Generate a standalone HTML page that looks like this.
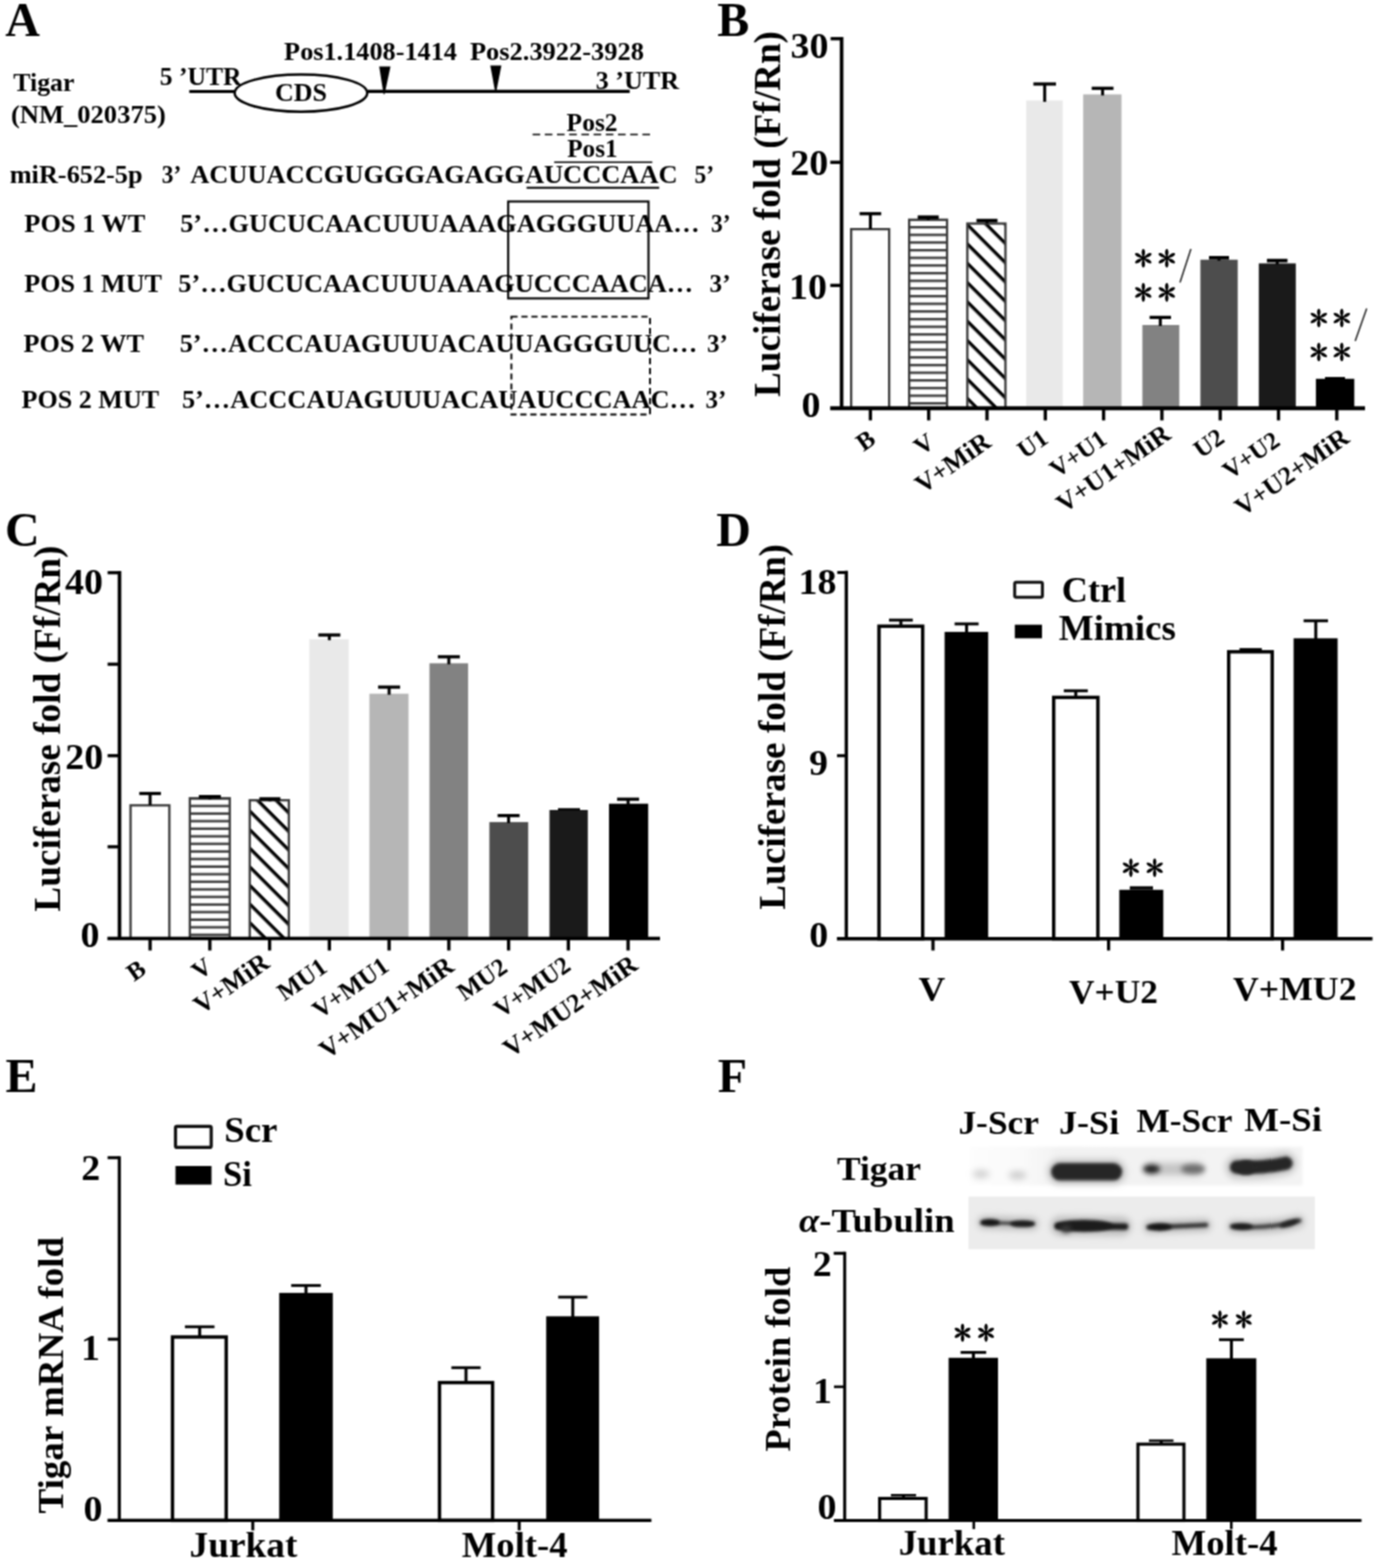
<!DOCTYPE html>
<html><head><meta charset="utf-8"><title>Figure</title>
<style>
html,body{margin:0;padding:0;background:#fff;}
body{width:1375px;height:1559px;overflow:hidden;}
svg{display:block;font-family:"Liberation Serif",serif;font-weight:bold;}
</style></head><body>
<svg width="1375" height="1559" viewBox="0 0 1375 1559">

<defs>
<pattern id="hsB" patternUnits="userSpaceOnUse" x="0" y="0" width="8" height="7.66">
<rect x="0" y="0" width="8" height="7.66" fill="#fff"/>
<rect x="0" y="3.91" width="8" height="2.3" fill="#2e2e2e"/>
</pattern>
<pattern id="hsC" patternUnits="userSpaceOnUse" x="0" y="0" width="8" height="7.58">
<rect x="0" y="0" width="8" height="7.58" fill="#fff"/>
<rect x="0" y="1.37" width="8" height="2.3" fill="#2e2e2e"/>
</pattern>
<pattern id="dsB" patternUnits="userSpaceOnUse" width="13.65" height="13.65" patternTransform="rotate(45) translate(0 5.55)">
<rect x="0" y="0" width="13.65" height="13.65" fill="#fff"/>
<rect x="0" y="0" width="13.65" height="3.3" fill="#000"/>
</pattern>
<pattern id="dsC" patternUnits="userSpaceOnUse" width="13.15" height="13.15" patternTransform="rotate(45) translate(0 0.75)">
<rect x="0" y="0" width="13.15" height="13.15" fill="#fff"/>
<rect x="0" y="0" width="13.15" height="3.3" fill="#000"/>
</pattern>
<linearGradient id="tg" gradientUnits="userSpaceOnUse" x1="969" y1="0" x2="1302" y2="0"><stop offset="0" stop-color="#fdfdfd"/><stop offset="0.17" stop-color="#f9f9f9"/><stop offset="0.27" stop-color="#f2f2f2"/><stop offset="1" stop-color="#f3f3f3"/></linearGradient>
<filter id="b1" filterUnits="userSpaceOnUse" x="940" y="1130" width="400" height="140"><feGaussianBlur stdDeviation="1.6"/></filter>
<filter id="b2" filterUnits="userSpaceOnUse" x="940" y="1130" width="400" height="140"><feGaussianBlur stdDeviation="2.4"/></filter>
<filter id="b3" filterUnits="userSpaceOnUse" x="940" y="1130" width="400" height="140"><feGaussianBlur stdDeviation="3.2"/></filter>
<filter id="soft" filterUnits="userSpaceOnUse" x="0" y="0" width="1375" height="1559" color-interpolation-filters="sRGB"><feConvolveMatrix order="3" kernelMatrix="1 2 1 2 4 2 1 2 1" divisor="16" edgeMode="duplicate" preserveAlpha="true"/></filter>
</defs>

<g id="fig" filter="url(#soft)">
<rect x="0" y="0" width="1375" height="1559" fill="#fff"/>
<text x="5.3" y="35.6" font-size="48" >A</text>
<text x="13.3" y="91.2" font-size="24.3" textLength="61.2" lengthAdjust="spacingAndGlyphs" >Tigar</text>
<text x="11" y="123" font-size="24.3" textLength="154.8" lengthAdjust="spacingAndGlyphs" >(NM_020375)</text>
<text x="159.8" y="85.1" font-size="24.3" textLength="81.7" lengthAdjust="spacingAndGlyphs" >5 ’UTR</text>
<line x1="189.3" y1="91.5" x2="236" y2="91.5" stroke="#000" stroke-width="3.1" />
<ellipse cx="300.95" cy="93.05" rx="66.3" ry="18.6" fill="#fff" stroke="#000" stroke-width="2.5"/>
<text x="275" y="100.9" font-size="24.3" textLength="52" lengthAdjust="spacingAndGlyphs" >CDS</text>
<text x="284.1" y="60.4" font-size="24.3" textLength="172.9" lengthAdjust="spacingAndGlyphs" >Pos1.1408-1414</text>
<text x="469.9" y="60" font-size="24.3" textLength="174.1" lengthAdjust="spacingAndGlyphs" >Pos2.3922-3928</text>
<line x1="367.6" y1="91.3" x2="629.7" y2="91.3" stroke="#000" stroke-width="3.3" />
<path d="M379.2 66.6 L390.5 66.6 L384.6 94.2 L383.6 94.2 Z" fill="#000"/>
<path d="M490.3 65.5 L501.4 65.5 L496.2 92 L495.2 92 Z" fill="#000"/>
<text x="595.7" y="89.1" font-size="24.3" textLength="83.3" lengthAdjust="spacingAndGlyphs" >3 ’UTR</text>
<text x="566.6" y="130.6" font-size="24.3" textLength="51" lengthAdjust="spacingAndGlyphs" >Pos2</text>
<line x1="532.6" y1="134.5" x2="652.3" y2="134.5" stroke="#000" stroke-width="1.7" stroke-dasharray="7.6 4.6"/>
<text x="567.2" y="156.8" font-size="24.3" textLength="50.4" lengthAdjust="spacingAndGlyphs" >Pos1</text>
<line x1="554.2" y1="162.3" x2="652.3" y2="162.3" stroke="#000" stroke-width="1.6" />
<line x1="526.6" y1="187.8" x2="659.2" y2="187.8" stroke="#000" stroke-width="2" />
<text x="9.7" y="182.6" font-size="24.3" textLength="132.9" lengthAdjust="spacingAndGlyphs" >miR-652-5p</text>
<text x="161.7" y="182.9" font-size="24.3" textLength="19.5" lengthAdjust="spacingAndGlyphs" >3’</text>
<text x="190.2" y="182.9" font-size="24.3" textLength="487.4" lengthAdjust="spacingAndGlyphs" >ACUUACCGUGGGAGAGGAUCCCAAC</text>
<text x="694.4" y="182.9" font-size="24.3" textLength="19.6" lengthAdjust="spacingAndGlyphs" >5’</text>
<text x="24.3" y="232.4" font-size="24.3" textLength="121.1" lengthAdjust="spacingAndGlyphs" >POS 1 WT</text>
<text x="180.2" y="232.4" font-size="24.3" textLength="519.4" lengthAdjust="spacingAndGlyphs" >5’…GUCUCAACUUUAAAGAGGGUUAA…</text>
<text x="711" y="232.4" font-size="24.3" textLength="19.6" lengthAdjust="spacingAndGlyphs" >3’</text>
<text x="24.3" y="292.3" font-size="24.3" textLength="137.7" lengthAdjust="spacingAndGlyphs" >POS 1 MUT</text>
<text x="178.3" y="292.3" font-size="24.3" textLength="514.9" lengthAdjust="spacingAndGlyphs" >5’…GUCUCAACUUUAAAGUCCCAACA…</text>
<text x="709.6" y="292.3" font-size="24.3" textLength="21" lengthAdjust="spacingAndGlyphs" >3’</text>
<text x="23.5" y="351.8" font-size="24.3" textLength="120.5" lengthAdjust="spacingAndGlyphs" >POS 2 WT</text>
<text x="179.7" y="351.8" font-size="24.3" textLength="517.7" lengthAdjust="spacingAndGlyphs" >5’…ACCCAUAGUUUACAUUAGGGUUC…</text>
<text x="706.9" y="351.8" font-size="24.3" textLength="20.9" lengthAdjust="spacingAndGlyphs" >3’</text>
<text x="21.6" y="408.4" font-size="24.3" textLength="137.6" lengthAdjust="spacingAndGlyphs" >POS 2 MUT</text>
<text x="181.9" y="408.4" font-size="24.3" textLength="514.1" lengthAdjust="spacingAndGlyphs" >5’…ACCCAUAGUUUACAUAUCCCAAC…</text>
<text x="705.5" y="408.4" font-size="24.3" textLength="20.9" lengthAdjust="spacingAndGlyphs" >3’</text>
<rect x="508.2" y="201.5" width="140.3" height="96.9" fill="none" stroke="#000" stroke-width="2.1" />
<rect x="511.4" y="316.6" width="138.6" height="97.9" fill="none" stroke="#000" stroke-width="1.9" stroke-dasharray="6.2 3.8"/>
<text x="717.2" y="35.6" font-size="48" >B</text>
<line x1="841.6" y1="37" x2="841.6" y2="408.2" stroke="#000" stroke-width="3.6" />
<line x1="830.6" y1="38.7" x2="841.6" y2="38.7" stroke="#000" stroke-width="3.3" />
<line x1="830.3" y1="162.3" x2="841.6" y2="162.3" stroke="#000" stroke-width="3.3" />
<line x1="830.3" y1="285.4" x2="841.6" y2="285.4" stroke="#000" stroke-width="3.3" />
<text x="828.5" y="57.5" font-size="35.5" text-anchor="end" textLength="38" lengthAdjust="spacingAndGlyphs" >30</text>
<text x="828.2" y="174.9" font-size="35.5" text-anchor="end" textLength="38" lengthAdjust="spacingAndGlyphs" >20</text>
<text x="827" y="298.7" font-size="35.5" text-anchor="end" textLength="38" lengthAdjust="spacingAndGlyphs" >10</text>
<text x="820.6" y="416.5" font-size="35.5" text-anchor="end" textLength="19" lengthAdjust="spacingAndGlyphs" >0</text>
<text x="780.1" y="397" font-size="37.3" textLength="366" lengthAdjust="spacingAndGlyphs" transform="rotate(-90 780.1 397)" >Luciferase fold (Ff/Rn)</text>
<line x1="870.4" y1="408.2" x2="870.4" y2="420.4" stroke="#000" stroke-width="3.3" />
<line x1="928.7" y1="408.2" x2="928.7" y2="420.4" stroke="#000" stroke-width="3.3" />
<line x1="987" y1="408.2" x2="987" y2="420.4" stroke="#000" stroke-width="3.3" />
<line x1="1045.3" y1="408.2" x2="1045.3" y2="420.4" stroke="#000" stroke-width="3.3" />
<line x1="1103.6" y1="408.2" x2="1103.6" y2="420.4" stroke="#000" stroke-width="3.3" />
<line x1="1161.9" y1="408.2" x2="1161.9" y2="420.4" stroke="#000" stroke-width="3.3" />
<line x1="1220.2" y1="408.2" x2="1220.2" y2="420.4" stroke="#000" stroke-width="3.3" />
<line x1="1278.5" y1="408.2" x2="1278.5" y2="420.4" stroke="#000" stroke-width="3.3" />
<line x1="1336.8" y1="408.2" x2="1336.8" y2="420.4" stroke="#000" stroke-width="3.3" />
<rect x="851.15" y="229.15" width="38" height="179.05" fill="#fff" stroke="#3a3a3a" stroke-width="2.3" />
<line x1="870.4" y1="213.7" x2="870.4" y2="229" stroke="#000" stroke-width="3" />
<line x1="859.6" y1="213.7" x2="881.2" y2="213.7" stroke="#000" stroke-width="3.2" />
<rect x="909.15" y="219.75" width="37.9" height="188.45" fill="url(#hsB)" stroke="#3a3a3a" stroke-width="2.3" />
<line x1="928.2" y1="217.2" x2="928.2" y2="220" stroke="#000" stroke-width="3" />
<line x1="917.7" y1="217.2" x2="938.7" y2="217.2" stroke="#000" stroke-width="3.6" />
<rect x="967.35" y="223.55" width="38.1" height="184.65" fill="url(#dsB)" stroke="#3a3a3a" stroke-width="2.3" />
<line x1="987" y1="220.6" x2="987" y2="223.5" stroke="#000" stroke-width="3" />
<line x1="976.5" y1="220.6" x2="997.5" y2="220.6" stroke="#000" stroke-width="3.6" />
<rect x="1026.2" y="100.5" width="36.5" height="307.7" fill="#e9e9e9" />
<line x1="1044.7" y1="84" x2="1044.7" y2="101.8" stroke="#000" stroke-width="3" />
<line x1="1033.4" y1="84" x2="1056" y2="84" stroke="#000" stroke-width="3.2" />
<rect x="1083.2" y="94.4" width="38.3" height="313.8" fill="#b6b6b6" />
<line x1="1102.6" y1="88.3" x2="1102.6" y2="95.4" stroke="#000" stroke-width="3" />
<line x1="1091.7" y1="88.3" x2="1113.5" y2="88.3" stroke="#000" stroke-width="3.2" />
<rect x="1142.4" y="325" width="36.9" height="83.2" fill="#828282" />
<line x1="1160.3" y1="317.4" x2="1160.3" y2="326" stroke="#000" stroke-width="3" />
<line x1="1149.6" y1="317.4" x2="1171" y2="317.4" stroke="#000" stroke-width="3.2" />
<rect x="1200.4" y="259.7" width="37.3" height="148.5" fill="#4d4d4d" />
<line x1="1219" y1="257.8" x2="1219" y2="260.7" stroke="#000" stroke-width="3" />
<line x1="1209" y1="257.8" x2="1229" y2="257.8" stroke="#000" stroke-width="3.6" />
<rect x="1258.8" y="263.4" width="37" height="144.8" fill="#1a1a1a" />
<line x1="1277.2" y1="260.6" x2="1277.2" y2="264.4" stroke="#000" stroke-width="3" />
<line x1="1266.9" y1="260.6" x2="1287.5" y2="260.6" stroke="#000" stroke-width="3.6" />
<rect x="1315.9" y="378.8" width="38.4" height="29.4" fill="#000" />
<line x1="1325" y1="378.2" x2="1345" y2="378.2" stroke="#000" stroke-width="2.4" />
<line x1="1143.3" y1="258.2" x2="1143.3" y2="249.9" stroke="#000" stroke-width="2" stroke-linecap="round"/>
<ellipse cx="1143.3" cy="252.52" rx="3.1" ry="1.67" fill="#000" transform="rotate(-90 1143.3 252.52)"/>
<line x1="1143.3" y1="258.2" x2="1150.49" y2="254.05" stroke="#000" stroke-width="2" stroke-linecap="round"/>
<ellipse cx="1148.21" cy="255.36" rx="3.1" ry="1.67" fill="#000" transform="rotate(-30 1148.21 255.36)"/>
<line x1="1143.3" y1="258.2" x2="1136.11" y2="254.05" stroke="#000" stroke-width="2" stroke-linecap="round"/>
<ellipse cx="1138.38" cy="255.36" rx="3.1" ry="1.67" fill="#000" transform="rotate(-150 1138.38 255.36)"/>
<line x1="1143.3" y1="258.2" x2="1143.3" y2="266.5" stroke="#000" stroke-width="2" stroke-linecap="round"/>
<ellipse cx="1143.3" cy="263.88" rx="3.1" ry="1.67" fill="#000" transform="rotate(-270 1143.3 263.88)"/>
<line x1="1143.3" y1="258.2" x2="1136.11" y2="262.35" stroke="#000" stroke-width="2" stroke-linecap="round"/>
<ellipse cx="1138.38" cy="261.04" rx="3.1" ry="1.67" fill="#000" transform="rotate(-210 1138.38 261.04)"/>
<line x1="1143.3" y1="258.2" x2="1150.49" y2="262.35" stroke="#000" stroke-width="2" stroke-linecap="round"/>
<ellipse cx="1148.21" cy="261.04" rx="3.1" ry="1.67" fill="#000" transform="rotate(-330 1148.21 261.04)"/>
<line x1="1166.8" y1="258.2" x2="1166.8" y2="249.9" stroke="#000" stroke-width="2" stroke-linecap="round"/>
<ellipse cx="1166.8" cy="252.52" rx="3.1" ry="1.67" fill="#000" transform="rotate(-90 1166.8 252.52)"/>
<line x1="1166.8" y1="258.2" x2="1173.99" y2="254.05" stroke="#000" stroke-width="2" stroke-linecap="round"/>
<ellipse cx="1171.72" cy="255.36" rx="3.1" ry="1.67" fill="#000" transform="rotate(-30 1171.72 255.36)"/>
<line x1="1166.8" y1="258.2" x2="1159.61" y2="254.05" stroke="#000" stroke-width="2" stroke-linecap="round"/>
<ellipse cx="1161.89" cy="255.36" rx="3.1" ry="1.67" fill="#000" transform="rotate(-150 1161.89 255.36)"/>
<line x1="1166.8" y1="258.2" x2="1166.8" y2="266.5" stroke="#000" stroke-width="2" stroke-linecap="round"/>
<ellipse cx="1166.8" cy="263.88" rx="3.1" ry="1.67" fill="#000" transform="rotate(-270 1166.8 263.88)"/>
<line x1="1166.8" y1="258.2" x2="1159.61" y2="262.35" stroke="#000" stroke-width="2" stroke-linecap="round"/>
<ellipse cx="1161.89" cy="261.04" rx="3.1" ry="1.67" fill="#000" transform="rotate(-210 1161.89 261.04)"/>
<line x1="1166.8" y1="258.2" x2="1173.99" y2="262.35" stroke="#000" stroke-width="2" stroke-linecap="round"/>
<ellipse cx="1171.72" cy="261.04" rx="3.1" ry="1.67" fill="#000" transform="rotate(-330 1171.72 261.04)"/>
<line x1="1143.3" y1="292.4" x2="1143.3" y2="284.1" stroke="#000" stroke-width="2" stroke-linecap="round"/>
<ellipse cx="1143.3" cy="286.72" rx="3.1" ry="1.67" fill="#000" transform="rotate(-90 1143.3 286.72)"/>
<line x1="1143.3" y1="292.4" x2="1150.49" y2="288.25" stroke="#000" stroke-width="2" stroke-linecap="round"/>
<ellipse cx="1148.21" cy="289.56" rx="3.1" ry="1.67" fill="#000" transform="rotate(-30 1148.21 289.56)"/>
<line x1="1143.3" y1="292.4" x2="1136.11" y2="288.25" stroke="#000" stroke-width="2" stroke-linecap="round"/>
<ellipse cx="1138.38" cy="289.56" rx="3.1" ry="1.67" fill="#000" transform="rotate(-150 1138.38 289.56)"/>
<line x1="1143.3" y1="292.4" x2="1143.3" y2="300.7" stroke="#000" stroke-width="2" stroke-linecap="round"/>
<ellipse cx="1143.3" cy="298.08" rx="3.1" ry="1.67" fill="#000" transform="rotate(-270 1143.3 298.08)"/>
<line x1="1143.3" y1="292.4" x2="1136.11" y2="296.55" stroke="#000" stroke-width="2" stroke-linecap="round"/>
<ellipse cx="1138.38" cy="295.24" rx="3.1" ry="1.67" fill="#000" transform="rotate(-210 1138.38 295.24)"/>
<line x1="1143.3" y1="292.4" x2="1150.49" y2="296.55" stroke="#000" stroke-width="2" stroke-linecap="round"/>
<ellipse cx="1148.21" cy="295.24" rx="3.1" ry="1.67" fill="#000" transform="rotate(-330 1148.21 295.24)"/>
<line x1="1166.8" y1="292.4" x2="1166.8" y2="284.1" stroke="#000" stroke-width="2" stroke-linecap="round"/>
<ellipse cx="1166.8" cy="286.72" rx="3.1" ry="1.67" fill="#000" transform="rotate(-90 1166.8 286.72)"/>
<line x1="1166.8" y1="292.4" x2="1173.99" y2="288.25" stroke="#000" stroke-width="2" stroke-linecap="round"/>
<ellipse cx="1171.72" cy="289.56" rx="3.1" ry="1.67" fill="#000" transform="rotate(-30 1171.72 289.56)"/>
<line x1="1166.8" y1="292.4" x2="1159.61" y2="288.25" stroke="#000" stroke-width="2" stroke-linecap="round"/>
<ellipse cx="1161.89" cy="289.56" rx="3.1" ry="1.67" fill="#000" transform="rotate(-150 1161.89 289.56)"/>
<line x1="1166.8" y1="292.4" x2="1166.8" y2="300.7" stroke="#000" stroke-width="2" stroke-linecap="round"/>
<ellipse cx="1166.8" cy="298.08" rx="3.1" ry="1.67" fill="#000" transform="rotate(-270 1166.8 298.08)"/>
<line x1="1166.8" y1="292.4" x2="1159.61" y2="296.55" stroke="#000" stroke-width="2" stroke-linecap="round"/>
<ellipse cx="1161.89" cy="295.24" rx="3.1" ry="1.67" fill="#000" transform="rotate(-210 1161.89 295.24)"/>
<line x1="1166.8" y1="292.4" x2="1173.99" y2="296.55" stroke="#000" stroke-width="2" stroke-linecap="round"/>
<ellipse cx="1171.72" cy="295.24" rx="3.1" ry="1.67" fill="#000" transform="rotate(-330 1171.72 295.24)"/>
<line x1="1190.9" y1="249" x2="1180" y2="282.4" stroke="#222" stroke-width="1.5" />
<line x1="1318.8" y1="318" x2="1318.8" y2="309.7" stroke="#000" stroke-width="2" stroke-linecap="round"/>
<ellipse cx="1318.8" cy="312.32" rx="3.1" ry="1.67" fill="#000" transform="rotate(-90 1318.8 312.32)"/>
<line x1="1318.8" y1="318" x2="1325.99" y2="313.85" stroke="#000" stroke-width="2" stroke-linecap="round"/>
<ellipse cx="1323.71" cy="315.16" rx="3.1" ry="1.67" fill="#000" transform="rotate(-30 1323.71 315.16)"/>
<line x1="1318.8" y1="318" x2="1311.61" y2="313.85" stroke="#000" stroke-width="2" stroke-linecap="round"/>
<ellipse cx="1313.88" cy="315.16" rx="3.1" ry="1.67" fill="#000" transform="rotate(-150 1313.88 315.16)"/>
<line x1="1318.8" y1="318" x2="1318.8" y2="326.3" stroke="#000" stroke-width="2" stroke-linecap="round"/>
<ellipse cx="1318.8" cy="323.68" rx="3.1" ry="1.67" fill="#000" transform="rotate(-270 1318.8 323.68)"/>
<line x1="1318.8" y1="318" x2="1311.61" y2="322.15" stroke="#000" stroke-width="2" stroke-linecap="round"/>
<ellipse cx="1313.88" cy="320.84" rx="3.1" ry="1.67" fill="#000" transform="rotate(-210 1313.88 320.84)"/>
<line x1="1318.8" y1="318" x2="1325.99" y2="322.15" stroke="#000" stroke-width="2" stroke-linecap="round"/>
<ellipse cx="1323.71" cy="320.84" rx="3.1" ry="1.67" fill="#000" transform="rotate(-330 1323.71 320.84)"/>
<line x1="1341.8" y1="318" x2="1341.8" y2="309.7" stroke="#000" stroke-width="2" stroke-linecap="round"/>
<ellipse cx="1341.8" cy="312.32" rx="3.1" ry="1.67" fill="#000" transform="rotate(-90 1341.8 312.32)"/>
<line x1="1341.8" y1="318" x2="1348.99" y2="313.85" stroke="#000" stroke-width="2" stroke-linecap="round"/>
<ellipse cx="1346.72" cy="315.16" rx="3.1" ry="1.67" fill="#000" transform="rotate(-30 1346.72 315.16)"/>
<line x1="1341.8" y1="318" x2="1334.61" y2="313.85" stroke="#000" stroke-width="2" stroke-linecap="round"/>
<ellipse cx="1336.89" cy="315.16" rx="3.1" ry="1.67" fill="#000" transform="rotate(-150 1336.89 315.16)"/>
<line x1="1341.8" y1="318" x2="1341.8" y2="326.3" stroke="#000" stroke-width="2" stroke-linecap="round"/>
<ellipse cx="1341.8" cy="323.68" rx="3.1" ry="1.67" fill="#000" transform="rotate(-270 1341.8 323.68)"/>
<line x1="1341.8" y1="318" x2="1334.61" y2="322.15" stroke="#000" stroke-width="2" stroke-linecap="round"/>
<ellipse cx="1336.89" cy="320.84" rx="3.1" ry="1.67" fill="#000" transform="rotate(-210 1336.89 320.84)"/>
<line x1="1341.8" y1="318" x2="1348.99" y2="322.15" stroke="#000" stroke-width="2" stroke-linecap="round"/>
<ellipse cx="1346.72" cy="320.84" rx="3.1" ry="1.67" fill="#000" transform="rotate(-330 1346.72 320.84)"/>
<line x1="1318.8" y1="352" x2="1318.8" y2="343.7" stroke="#000" stroke-width="2" stroke-linecap="round"/>
<ellipse cx="1318.8" cy="346.32" rx="3.1" ry="1.67" fill="#000" transform="rotate(-90 1318.8 346.32)"/>
<line x1="1318.8" y1="352" x2="1325.99" y2="347.85" stroke="#000" stroke-width="2" stroke-linecap="round"/>
<ellipse cx="1323.71" cy="349.16" rx="3.1" ry="1.67" fill="#000" transform="rotate(-30 1323.71 349.16)"/>
<line x1="1318.8" y1="352" x2="1311.61" y2="347.85" stroke="#000" stroke-width="2" stroke-linecap="round"/>
<ellipse cx="1313.88" cy="349.16" rx="3.1" ry="1.67" fill="#000" transform="rotate(-150 1313.88 349.16)"/>
<line x1="1318.8" y1="352" x2="1318.8" y2="360.3" stroke="#000" stroke-width="2" stroke-linecap="round"/>
<ellipse cx="1318.8" cy="357.68" rx="3.1" ry="1.67" fill="#000" transform="rotate(-270 1318.8 357.68)"/>
<line x1="1318.8" y1="352" x2="1311.61" y2="356.15" stroke="#000" stroke-width="2" stroke-linecap="round"/>
<ellipse cx="1313.88" cy="354.84" rx="3.1" ry="1.67" fill="#000" transform="rotate(-210 1313.88 354.84)"/>
<line x1="1318.8" y1="352" x2="1325.99" y2="356.15" stroke="#000" stroke-width="2" stroke-linecap="round"/>
<ellipse cx="1323.71" cy="354.84" rx="3.1" ry="1.67" fill="#000" transform="rotate(-330 1323.71 354.84)"/>
<line x1="1341.8" y1="352" x2="1341.8" y2="343.7" stroke="#000" stroke-width="2" stroke-linecap="round"/>
<ellipse cx="1341.8" cy="346.32" rx="3.1" ry="1.67" fill="#000" transform="rotate(-90 1341.8 346.32)"/>
<line x1="1341.8" y1="352" x2="1348.99" y2="347.85" stroke="#000" stroke-width="2" stroke-linecap="round"/>
<ellipse cx="1346.72" cy="349.16" rx="3.1" ry="1.67" fill="#000" transform="rotate(-30 1346.72 349.16)"/>
<line x1="1341.8" y1="352" x2="1334.61" y2="347.85" stroke="#000" stroke-width="2" stroke-linecap="round"/>
<ellipse cx="1336.89" cy="349.16" rx="3.1" ry="1.67" fill="#000" transform="rotate(-150 1336.89 349.16)"/>
<line x1="1341.8" y1="352" x2="1341.8" y2="360.3" stroke="#000" stroke-width="2" stroke-linecap="round"/>
<ellipse cx="1341.8" cy="357.68" rx="3.1" ry="1.67" fill="#000" transform="rotate(-270 1341.8 357.68)"/>
<line x1="1341.8" y1="352" x2="1334.61" y2="356.15" stroke="#000" stroke-width="2" stroke-linecap="round"/>
<ellipse cx="1336.89" cy="354.84" rx="3.1" ry="1.67" fill="#000" transform="rotate(-210 1336.89 354.84)"/>
<line x1="1341.8" y1="352" x2="1348.99" y2="356.15" stroke="#000" stroke-width="2" stroke-linecap="round"/>
<ellipse cx="1346.72" cy="354.84" rx="3.1" ry="1.67" fill="#000" transform="rotate(-330 1346.72 354.84)"/>
<line x1="1366.7" y1="308.4" x2="1355.2" y2="341" stroke="#222" stroke-width="1.5" />
<text x="877.2" y="442.5" font-size="25" text-anchor="end" transform="rotate(-35 877.2 442.5)" >B</text>
<text x="936" y="445.7" font-size="25" text-anchor="end" transform="rotate(-35 936 445.7)" >V</text>
<text x="992.5" y="445.4" font-size="26.3" text-anchor="end" transform="rotate(-35 992.5 445.4)" >V+MiR</text>
<text x="1049.7" y="441.8" font-size="25" text-anchor="end" transform="rotate(-35 1049.7 441.8)" >U1</text>
<text x="1108.6" y="442.5" font-size="25" text-anchor="end" transform="rotate(-35 1108.6 442.5)" >V+U1</text>
<text x="1172.4" y="437.6" font-size="26.3" text-anchor="end" transform="rotate(-35 1172.4 437.6)" >V+U1+MiR</text>
<text x="1226.1" y="441.1" font-size="25" text-anchor="end" transform="rotate(-35 1226.1 441.1)" >U2</text>
<text x="1281.4" y="444" font-size="25" text-anchor="end" transform="rotate(-35 1281.4 444)" >V+U2</text>
<text x="1350.9" y="441.1" font-size="26.3" text-anchor="end" transform="rotate(-35 1350.9 441.1)" >V+U2+MiR</text>
<text x="5" y="546" font-size="48" >C</text>
<line x1="119.5" y1="571" x2="119.5" y2="938.5" stroke="#000" stroke-width="3.6" />
<line x1="107.6" y1="572.7" x2="119.5" y2="572.7" stroke="#000" stroke-width="3.2" />
<line x1="107.6" y1="664.2" x2="119.5" y2="664.2" stroke="#000" stroke-width="3.2" />
<line x1="107.6" y1="755.7" x2="119.5" y2="755.7" stroke="#000" stroke-width="3.2" />
<line x1="107.6" y1="846.8" x2="119.5" y2="846.8" stroke="#000" stroke-width="3.2" />
<text x="102.9" y="594" font-size="35.5" text-anchor="end" textLength="38" lengthAdjust="spacingAndGlyphs" >40</text>
<text x="103.2" y="769.3" font-size="35.5" text-anchor="end" textLength="38" lengthAdjust="spacingAndGlyphs" >20</text>
<text x="99.4" y="946.8" font-size="35.5" text-anchor="end" textLength="19" lengthAdjust="spacingAndGlyphs" >0</text>
<text x="60.1" y="911.7" font-size="37.3" textLength="366.2" lengthAdjust="spacingAndGlyphs" transform="rotate(-90 60.1 911.7)" >Luciferase fold (Ff/Rn)</text>
<line x1="150.1" y1="938.5" x2="150.1" y2="950.5" stroke="#000" stroke-width="3.3" />
<line x1="209.85" y1="938.5" x2="209.85" y2="950.5" stroke="#000" stroke-width="3.3" />
<line x1="269.6" y1="938.5" x2="269.6" y2="950.5" stroke="#000" stroke-width="3.3" />
<line x1="329.35" y1="938.5" x2="329.35" y2="950.5" stroke="#000" stroke-width="3.3" />
<line x1="389.1" y1="938.5" x2="389.1" y2="950.5" stroke="#000" stroke-width="3.3" />
<line x1="448.85" y1="938.5" x2="448.85" y2="950.5" stroke="#000" stroke-width="3.3" />
<line x1="508.6" y1="938.5" x2="508.6" y2="950.5" stroke="#000" stroke-width="3.3" />
<line x1="568.35" y1="938.5" x2="568.35" y2="950.5" stroke="#000" stroke-width="3.3" />
<line x1="628.1" y1="938.5" x2="628.1" y2="950.5" stroke="#000" stroke-width="3.3" />
<rect x="130.55" y="805.35" width="38.8" height="133.15" fill="#fff" stroke="#3a3a3a" stroke-width="2.3" />
<line x1="150.1" y1="793.5" x2="150.1" y2="805.2" stroke="#000" stroke-width="3" />
<line x1="139.3" y1="793.5" x2="160.9" y2="793.5" stroke="#000" stroke-width="3.2" />
<rect x="189.85" y="798.25" width="39.9" height="140.25" fill="url(#hsC)" stroke="#3a3a3a" stroke-width="2.3" />
<line x1="209.85" y1="796.8" x2="209.85" y2="799.3" stroke="#000" stroke-width="3" />
<line x1="198.85" y1="796.8" x2="220.85" y2="796.8" stroke="#000" stroke-width="3.6" />
<rect x="249.75" y="800.25" width="39.1" height="138.25" fill="url(#dsC)" stroke="#3a3a3a" stroke-width="2.3" />
<line x1="269.9" y1="799" x2="269.9" y2="801.3" stroke="#000" stroke-width="3" />
<line x1="259.4" y1="799" x2="280.4" y2="799" stroke="#000" stroke-width="3.6" />
<rect x="309.3" y="639.2" width="39.4" height="299.3" fill="#e9e9e9" />
<line x1="329.35" y1="635" x2="329.35" y2="640.2" stroke="#000" stroke-width="3" />
<line x1="318.35" y1="635" x2="340.35" y2="635" stroke="#000" stroke-width="3.2" />
<rect x="369.4" y="693.7" width="39.1" height="244.8" fill="#b6b6b6" />
<line x1="389.1" y1="687.1" x2="389.1" y2="694.7" stroke="#000" stroke-width="3" />
<line x1="378.1" y1="687.1" x2="400.1" y2="687.1" stroke="#000" stroke-width="3.2" />
<rect x="429.5" y="663.3" width="38.6" height="275.2" fill="#828282" />
<line x1="448.85" y1="656.8" x2="448.85" y2="664.3" stroke="#000" stroke-width="3" />
<line x1="437.85" y1="656.8" x2="459.85" y2="656.8" stroke="#000" stroke-width="3.2" />
<rect x="489.4" y="822.1" width="38.8" height="116.4" fill="#4d4d4d" />
<line x1="508.6" y1="815.6" x2="508.6" y2="823.1" stroke="#000" stroke-width="3" />
<line x1="497.6" y1="815.6" x2="519.6" y2="815.6" stroke="#000" stroke-width="3.2" />
<rect x="549.5" y="810" width="38.3" height="128.5" fill="#1a1a1a" />
<line x1="558" y1="809.3" x2="580" y2="809.3" stroke="#000" stroke-width="2.2" />
<rect x="609" y="803.7" width="39.2" height="134.8" fill="#000" />
<line x1="628.1" y1="799.2" x2="628.1" y2="804.7" stroke="#000" stroke-width="3" />
<line x1="617.1" y1="799.2" x2="639.1" y2="799.2" stroke="#000" stroke-width="3.2" />
<text x="147.6" y="972.5" font-size="25" text-anchor="end" transform="rotate(-35 147.6 972.5)" >B</text>
<text x="213.9" y="970.1" font-size="25" text-anchor="end" transform="rotate(-35 213.9 970.1)" >V</text>
<text x="271" y="966.2" font-size="26.3" text-anchor="end" transform="rotate(-35 271 966.2)" >V+MiR</text>
<text x="328.8" y="970.5" font-size="25" text-anchor="end" transform="rotate(-35 328.8 970.5)" >MU1</text>
<text x="390.6" y="969.7" font-size="25" text-anchor="end" transform="rotate(-35 390.6 969.7)" >V+MU1</text>
<text x="455.6" y="969.7" font-size="26.3" text-anchor="end" transform="rotate(-35 455.6 969.7)" >V+MU1+MiR</text>
<text x="508.9" y="970.5" font-size="25" text-anchor="end" transform="rotate(-35 508.9 970.5)" >MU2</text>
<text x="572.2" y="968.9" font-size="25" text-anchor="end" transform="rotate(-35 572.2 968.9)" >V+MU2</text>
<text x="639.4" y="968.2" font-size="26.3" text-anchor="end" transform="rotate(-35 639.4 968.2)" >V+MU2+MiR</text>
<text x="716.3" y="545.8" font-size="48" >D</text>
<line x1="846.3" y1="570.8" x2="846.3" y2="938.7" stroke="#000" stroke-width="3.3" />
<line x1="837.3" y1="572.5" x2="846.3" y2="572.5" stroke="#000" stroke-width="3" />
<line x1="837" y1="755.7" x2="846.3" y2="755.7" stroke="#000" stroke-width="3" />
<text x="836.6" y="593.7" font-size="35.5" text-anchor="end" textLength="38" lengthAdjust="spacingAndGlyphs" >18</text>
<text x="828.1" y="775" font-size="35.5" text-anchor="end" textLength="19" lengthAdjust="spacingAndGlyphs" >9</text>
<text x="828.2" y="946.8" font-size="35.5" text-anchor="end" textLength="19" lengthAdjust="spacingAndGlyphs" >0</text>
<text x="785.1" y="909.7" font-size="37.2" textLength="365.7" lengthAdjust="spacingAndGlyphs" transform="rotate(-90 785.1 909.7)" >Luciferase fold (Ff/Rn)</text>
<line x1="933" y1="938.7" x2="933" y2="950.5" stroke="#000" stroke-width="3.2" />
<line x1="1108.6" y1="938.7" x2="1108.6" y2="950.5" stroke="#000" stroke-width="3.2" />
<line x1="1282.6" y1="938.7" x2="1282.6" y2="950.5" stroke="#000" stroke-width="3.2" />
<rect x="879" y="626.2" width="43.7" height="312.5" fill="#fff" stroke="#000" stroke-width="3.4" />
<line x1="900.9" y1="620.1" x2="900.9" y2="626.5" stroke="#000" stroke-width="3" />
<line x1="889" y1="620.1" x2="912.8" y2="620.1" stroke="#000" stroke-width="2.9" />
<rect x="944.6" y="631.9" width="43.6" height="306.8" fill="#000" />
<line x1="966.6" y1="623.9" x2="966.6" y2="633" stroke="#000" stroke-width="3" />
<line x1="954.6" y1="623.9" x2="978.6" y2="623.9" stroke="#000" stroke-width="2.9" />
<rect x="1053.7" y="697.4" width="44.2" height="241.3" fill="#fff" stroke="#000" stroke-width="3.4" />
<line x1="1075.8" y1="690.8" x2="1075.8" y2="698" stroke="#000" stroke-width="3" />
<line x1="1063.8" y1="690.8" x2="1087.8" y2="690.8" stroke="#000" stroke-width="2.9" />
<rect x="1119.3" y="889.8" width="44" height="48.9" fill="#000" />
<line x1="1129.8" y1="888" x2="1153" y2="888" stroke="#000" stroke-width="3.4" />
<rect x="1228.7" y="651.8" width="43.5" height="286.9" fill="#fff" stroke="#000" stroke-width="3.4" />
<line x1="1239.5" y1="649.6" x2="1261.8" y2="649.6" stroke="#000" stroke-width="3" />
<rect x="1293.6" y="638.3" width="44" height="300.4" fill="#000" />
<line x1="1315.8" y1="620.8" x2="1315.8" y2="639.5" stroke="#000" stroke-width="3" />
<line x1="1303.6" y1="620.8" x2="1328" y2="620.8" stroke="#000" stroke-width="2.9" />
<line x1="1130.91" y1="867.7" x2="1130.91" y2="859.5" stroke="#000" stroke-width="2" stroke-linecap="round"/>
<ellipse cx="1130.91" cy="862.09" rx="3.06" ry="1.67" fill="#000" transform="rotate(-90 1130.91 862.09)"/>
<line x1="1130.91" y1="867.7" x2="1138.01" y2="863.6" stroke="#000" stroke-width="2" stroke-linecap="round"/>
<ellipse cx="1135.77" cy="864.9" rx="3.06" ry="1.67" fill="#000" transform="rotate(-30 1135.77 864.9)"/>
<line x1="1130.91" y1="867.7" x2="1123.81" y2="863.6" stroke="#000" stroke-width="2" stroke-linecap="round"/>
<ellipse cx="1126.05" cy="864.9" rx="3.06" ry="1.67" fill="#000" transform="rotate(-150 1126.05 864.9)"/>
<line x1="1130.91" y1="867.7" x2="1130.91" y2="875.9" stroke="#000" stroke-width="2" stroke-linecap="round"/>
<ellipse cx="1130.91" cy="873.31" rx="3.06" ry="1.67" fill="#000" transform="rotate(-270 1130.91 873.31)"/>
<line x1="1130.91" y1="867.7" x2="1123.81" y2="871.8" stroke="#000" stroke-width="2" stroke-linecap="round"/>
<ellipse cx="1126.05" cy="870.5" rx="3.06" ry="1.67" fill="#000" transform="rotate(-210 1126.05 870.5)"/>
<line x1="1130.91" y1="867.7" x2="1138.01" y2="871.8" stroke="#000" stroke-width="2" stroke-linecap="round"/>
<ellipse cx="1135.77" cy="870.5" rx="3.06" ry="1.67" fill="#000" transform="rotate(-330 1135.77 870.5)"/>
<line x1="1154.69" y1="867.7" x2="1154.69" y2="859.5" stroke="#000" stroke-width="2" stroke-linecap="round"/>
<ellipse cx="1154.69" cy="862.09" rx="3.06" ry="1.67" fill="#000" transform="rotate(-90 1154.69 862.09)"/>
<line x1="1154.69" y1="867.7" x2="1161.79" y2="863.6" stroke="#000" stroke-width="2" stroke-linecap="round"/>
<ellipse cx="1159.55" cy="864.9" rx="3.06" ry="1.67" fill="#000" transform="rotate(-30 1159.55 864.9)"/>
<line x1="1154.69" y1="867.7" x2="1147.59" y2="863.6" stroke="#000" stroke-width="2" stroke-linecap="round"/>
<ellipse cx="1149.83" cy="864.9" rx="3.06" ry="1.67" fill="#000" transform="rotate(-150 1149.83 864.9)"/>
<line x1="1154.69" y1="867.7" x2="1154.69" y2="875.9" stroke="#000" stroke-width="2" stroke-linecap="round"/>
<ellipse cx="1154.69" cy="873.31" rx="3.06" ry="1.67" fill="#000" transform="rotate(-270 1154.69 873.31)"/>
<line x1="1154.69" y1="867.7" x2="1147.59" y2="871.8" stroke="#000" stroke-width="2" stroke-linecap="round"/>
<ellipse cx="1149.83" cy="870.5" rx="3.06" ry="1.67" fill="#000" transform="rotate(-210 1149.83 870.5)"/>
<line x1="1154.69" y1="867.7" x2="1161.79" y2="871.8" stroke="#000" stroke-width="2" stroke-linecap="round"/>
<ellipse cx="1159.55" cy="870.5" rx="3.06" ry="1.67" fill="#000" transform="rotate(-330 1159.55 870.5)"/>
<rect x="1014.7" y="582.3" width="27.7" height="14.9" fill="#fff" stroke="#111" stroke-width="3" rx="1.5"/>
<text x="1061.8" y="602" font-size="35.2" textLength="64.4" lengthAdjust="spacingAndGlyphs" >Ctrl</text>
<rect x="1014.8" y="624.7" width="27.2" height="13.6" fill="#000" />
<text x="1058.8" y="640" font-size="35.2" textLength="117" lengthAdjust="spacingAndGlyphs" >Mimics</text>
<text x="918.6" y="999.9" font-size="34.5" textLength="26.8" lengthAdjust="spacingAndGlyphs" >V</text>
<text x="1069" y="1003.2" font-size="34.5" textLength="88.8" lengthAdjust="spacingAndGlyphs" >V+U2</text>
<text x="1233" y="999.9" font-size="34.5" textLength="123.5" lengthAdjust="spacingAndGlyphs" >V+MU2</text>
<text x="5.6" y="1092.2" font-size="48" >E</text>
<line x1="119.3" y1="1156.2" x2="119.3" y2="1520.4" stroke="#000" stroke-width="3.1" />
<line x1="107.6" y1="1157.7" x2="119.3" y2="1157.7" stroke="#000" stroke-width="3" />
<line x1="107.8" y1="1339.2" x2="119.3" y2="1339.2" stroke="#000" stroke-width="3" />
<text x="100.3" y="1179.8" font-size="35.5" text-anchor="end" textLength="19" lengthAdjust="spacingAndGlyphs" >2</text>
<text x="100" y="1359.6" font-size="35.5" text-anchor="end" textLength="19" lengthAdjust="spacingAndGlyphs" >1</text>
<text x="102.4" y="1520.9" font-size="35.5" text-anchor="end" textLength="19" lengthAdjust="spacingAndGlyphs" >0</text>
<text x="63.3" y="1513.6" font-size="36.6" textLength="276.8" lengthAdjust="spacingAndGlyphs" transform="rotate(-90 63.3 1513.6)" >Tigar mRNA fold</text>
<line x1="252.8" y1="1520.4" x2="252.8" y2="1530.4" stroke="#000" stroke-width="3" />
<line x1="519.2" y1="1520.4" x2="519.2" y2="1530.4" stroke="#000" stroke-width="3" />
<rect x="172.5" y="1337" width="53.7" height="183.4" fill="#fff" stroke="#000" stroke-width="3.4" />
<line x1="199.7" y1="1326.8" x2="199.7" y2="1337" stroke="#000" stroke-width="3" />
<line x1="184.9" y1="1326.8" x2="214.5" y2="1326.8" stroke="#000" stroke-width="2.8" />
<rect x="279.2" y="1292.9" width="53.6" height="227.5" fill="#000" />
<line x1="306" y1="1285.5" x2="306" y2="1293.9" stroke="#000" stroke-width="3" />
<line x1="291.2" y1="1285.5" x2="320.8" y2="1285.5" stroke="#000" stroke-width="2.8" />
<rect x="439.5" y="1382.6" width="53.1" height="137.8" fill="#fff" stroke="#000" stroke-width="3.4" />
<line x1="466" y1="1367.7" x2="466" y2="1382.5" stroke="#000" stroke-width="3" />
<line x1="451.4" y1="1367.7" x2="480.6" y2="1367.7" stroke="#000" stroke-width="2.8" />
<rect x="546.2" y="1316.3" width="52.9" height="204.1" fill="#000" />
<line x1="572.8" y1="1297.1" x2="572.8" y2="1317.3" stroke="#000" stroke-width="3" />
<line x1="558.2" y1="1297.1" x2="587.4" y2="1297.1" stroke="#000" stroke-width="2.8" />
<rect x="175.5" y="1126.3" width="35.7" height="21.1" fill="#fff" stroke="#111" stroke-width="3.2" rx="1.5"/>
<text x="224.2" y="1142.3" font-size="35.4" textLength="53.2" lengthAdjust="spacingAndGlyphs" >Scr</text>
<rect x="175.5" y="1166" width="36" height="18.6" fill="#000" />
<text x="222.9" y="1185.5" font-size="35.4" textLength="28.9" lengthAdjust="spacingAndGlyphs" >Si</text>
<text x="189.6" y="1557" font-size="36" textLength="107.8" lengthAdjust="spacingAndGlyphs" >Jurkat</text>
<text x="461.8" y="1557" font-size="36" textLength="105.8" lengthAdjust="spacingAndGlyphs" >Molt-4</text>
<text x="717.7" y="1092.2" font-size="48" >F</text>
<rect x="969.5" y="1146.8" width="333" height="38.6" fill="url(#tg)" filter="url(#b1)"/>
<rect x="968.5" y="1196.6" width="346.3" height="52.6" fill="#ececec" />
<ellipse cx="981" cy="1174" rx="8.5" ry="4.2" fill="#d2d2d2" opacity="1" filter="url(#b3)"/>
<ellipse cx="1017.6" cy="1175.3" rx="9" ry="4.2" fill="#cdcdcd" opacity="1" filter="url(#b3)"/>
<path d="M1060 1171.8 L1113.5 1171.8" fill="none" stroke="#c4c4c4" stroke-width="25" stroke-linecap="round" stroke-linejoin="round" opacity="1" filter="url(#b3)"/>
<path d="M1059.8 1171.8 L1113.5 1171.8" fill="none" stroke="#262626" stroke-width="17.4" stroke-linecap="round" stroke-linejoin="round" opacity="1" filter="url(#b1)"/>
<path d="M1150 1169 L1197 1169" fill="none" stroke="#cfcfcf" stroke-width="14" stroke-linecap="round" stroke-linejoin="round" opacity="1" filter="url(#b3)"/>
<path d="M1150 1169.3 L1198 1169" fill="none" stroke="#c2c2c2" stroke-width="5" stroke-linecap="round" stroke-linejoin="round" opacity="1" filter="url(#b2)"/>
<ellipse cx="1151.6" cy="1169" rx="8.5" ry="4.2" fill="#1e1e1e" opacity="1" filter="url(#b2)"/>
<ellipse cx="1193" cy="1169" rx="12" ry="4.8" fill="#6c6c6c" opacity="1" filter="url(#b2)"/>
<path d="M1237 1167.2 Q1262 1168.5 1285 1163.2" fill="none" stroke="#c4c4c4" stroke-width="23" stroke-linecap="round" stroke-linejoin="round" opacity="1" filter="url(#b3)"/>
<path d="M1236.5 1167.2 Q1262 1168.5 1286 1163.2" fill="none" stroke="#262626" stroke-width="13.2" stroke-linecap="round" stroke-linejoin="round" opacity="1" filter="url(#b1)"/>
<ellipse cx="1246" cy="1167.4" rx="10" ry="7.4" fill="#262626" opacity="1" filter="url(#b1)"/>
<path d="M984 1222.6 L1032 1223.8" fill="none" stroke="#bdbdbd" stroke-width="13" stroke-linecap="round" stroke-linejoin="round" opacity="1" filter="url(#b3)"/>
<path d="M983 1222.6 L1033 1223.8" fill="none" stroke="#2a2a2a" stroke-width="2.6" stroke-linecap="round" stroke-linejoin="round" opacity="1" filter="url(#b1)"/>
<ellipse cx="990" cy="1222.5" rx="10" ry="3.6" fill="#141414" opacity="1" filter="url(#b1)"/>
<ellipse cx="1022.5" cy="1223.8" rx="12.5" ry="3.3" fill="#1a1a1a" opacity="1" filter="url(#b1)"/>
<path d="M1060 1225.8 L1122 1226.2" fill="none" stroke="#bdbdbd" stroke-width="19" stroke-linecap="round" stroke-linejoin="round" opacity="1" filter="url(#b3)"/>
<path d="M1058 1226.2 L1125 1226.6" fill="none" stroke="#1c1c1c" stroke-width="6.8" stroke-linecap="round" stroke-linejoin="round" opacity="1" filter="url(#b1)"/>
<ellipse cx="1084" cy="1225.7" rx="29" ry="6" fill="#1c1c1c" opacity="1" filter="url(#b1)"/>
<ellipse cx="1066" cy="1229" rx="5" ry="4" fill="#3a3a3a" opacity="1" filter="url(#b2)"/>
<path d="M1150 1227 L1205 1225" fill="none" stroke="#bdbdbd" stroke-width="13" stroke-linecap="round" stroke-linejoin="round" opacity="1" filter="url(#b3)"/>
<path d="M1148.5 1227.2 Q1178 1226.6 1206 1225" fill="none" stroke="#333" stroke-width="4.6" stroke-linecap="round" stroke-linejoin="round" opacity="1" filter="url(#b1)"/>
<ellipse cx="1160" cy="1227" rx="12" ry="3.7" fill="#161616" opacity="1" filter="url(#b1)"/>
<path d="M1234 1226.4 Q1270 1229 1298 1221.5" fill="none" stroke="#bdbdbd" stroke-width="13" stroke-linecap="round" stroke-linejoin="round" opacity="1" filter="url(#b3)"/>
<path d="M1232 1226.4 Q1268 1229.6 1299.5 1220.6" fill="none" stroke="#3c3c3c" stroke-width="4.2" stroke-linecap="round" stroke-linejoin="round" opacity="1" filter="url(#b1)"/>
<ellipse cx="1242" cy="1226.5" rx="11" ry="3.3" fill="#1c1c1c" opacity="1" filter="url(#b1)"/>
<ellipse cx="1289" cy="1223.4" rx="10" ry="3" fill="#222" opacity="1" filter="url(#b1)" transform="rotate(-18 1289 1223.4)"/>
<text x="958.4" y="1133.6" font-size="34" textLength="80.6" lengthAdjust="spacingAndGlyphs" >J-Scr</text>
<text x="1059" y="1133.6" font-size="34" textLength="60.2" lengthAdjust="spacingAndGlyphs" >J-Si</text>
<text x="1136.4" y="1131.6" font-size="34" textLength="96" lengthAdjust="spacingAndGlyphs" >M-Scr</text>
<text x="1244.3" y="1130.9" font-size="34" textLength="77.7" lengthAdjust="spacingAndGlyphs" >M-Si</text>
<text x="837" y="1179.6" font-size="34" textLength="84" lengthAdjust="spacingAndGlyphs" >Tigar</text>
<text x="799.0" y="1231.7" font-size="34" textLength="155.6" lengthAdjust="spacingAndGlyphs"><tspan font-style="italic">α</tspan>-Tubulin</text>
<line x1="844.7" y1="1251.8" x2="844.7" y2="1520.5" stroke="#000" stroke-width="3" />
<line x1="833.7" y1="1253.3" x2="844.7" y2="1253.3" stroke="#000" stroke-width="3" />
<line x1="834" y1="1386.8" x2="844.7" y2="1386.8" stroke="#000" stroke-width="2.6" />
<text x="831.7" y="1275.7" font-size="35.5" text-anchor="end" textLength="19" lengthAdjust="spacingAndGlyphs" >2</text>
<text x="832.1" y="1403.4" font-size="35.5" text-anchor="end" textLength="19" lengthAdjust="spacingAndGlyphs" >1</text>
<text x="836.5" y="1519" font-size="35.5" text-anchor="end" textLength="19" lengthAdjust="spacingAndGlyphs" >0</text>
<text x="789.8" y="1451.6" font-size="36.8" textLength="184.8" lengthAdjust="spacingAndGlyphs" transform="rotate(-90 789.8 1451.6)" >Protein fold</text>
<line x1="973.8" y1="1520.5" x2="973.8" y2="1529.1" stroke="#000" stroke-width="2.6" />
<line x1="1231.3" y1="1520.5" x2="1231.3" y2="1529.1" stroke="#000" stroke-width="2.6" />
<rect x="879.65" y="1498.45" width="46.5" height="22.05" fill="#fff" stroke="#000" stroke-width="3.1" />
<line x1="903.5" y1="1495.2" x2="903.5" y2="1498" stroke="#000" stroke-width="3" />
<line x1="890.9" y1="1495.2" x2="916.1" y2="1495.2" stroke="#000" stroke-width="2.4" />
<rect x="948.6" y="1357.8" width="49.4" height="162.7" fill="#000" />
<line x1="973.4" y1="1352.4" x2="973.4" y2="1358.8" stroke="#000" stroke-width="3" />
<line x1="960.6" y1="1352.4" x2="986.2" y2="1352.4" stroke="#000" stroke-width="2.8" />
<rect x="1137.95" y="1444.15" width="46" height="76.35" fill="#fff" stroke="#000" stroke-width="3.1" />
<line x1="1161.2" y1="1440.6" x2="1161.2" y2="1444" stroke="#000" stroke-width="3" />
<line x1="1148.9" y1="1440.6" x2="1173.5" y2="1440.6" stroke="#000" stroke-width="2.3" />
<rect x="1206.3" y="1358.3" width="50" height="162.2" fill="#000" />
<line x1="1231.4" y1="1339.7" x2="1231.4" y2="1359.3" stroke="#000" stroke-width="3" />
<line x1="1219" y1="1339.7" x2="1243.8" y2="1339.7" stroke="#000" stroke-width="2.8" />
<line x1="962.54" y1="1332.8" x2="962.54" y2="1324.8" stroke="#000" stroke-width="2" stroke-linecap="round"/>
<ellipse cx="962.54" cy="1327.32" rx="2.99" ry="1.67" fill="#000" transform="rotate(-90 962.54 1327.32)"/>
<line x1="962.54" y1="1332.8" x2="969.47" y2="1328.8" stroke="#000" stroke-width="2" stroke-linecap="round"/>
<ellipse cx="967.28" cy="1330.06" rx="2.99" ry="1.67" fill="#000" transform="rotate(-30 967.28 1330.06)"/>
<line x1="962.54" y1="1332.8" x2="955.61" y2="1328.8" stroke="#000" stroke-width="2" stroke-linecap="round"/>
<ellipse cx="957.79" cy="1330.06" rx="2.99" ry="1.67" fill="#000" transform="rotate(-150 957.79 1330.06)"/>
<line x1="962.54" y1="1332.8" x2="962.54" y2="1340.8" stroke="#000" stroke-width="2" stroke-linecap="round"/>
<ellipse cx="962.54" cy="1338.28" rx="2.99" ry="1.67" fill="#000" transform="rotate(-270 962.54 1338.28)"/>
<line x1="962.54" y1="1332.8" x2="955.61" y2="1336.8" stroke="#000" stroke-width="2" stroke-linecap="round"/>
<ellipse cx="957.79" cy="1335.54" rx="2.99" ry="1.67" fill="#000" transform="rotate(-210 957.79 1335.54)"/>
<line x1="962.54" y1="1332.8" x2="969.47" y2="1336.8" stroke="#000" stroke-width="2" stroke-linecap="round"/>
<ellipse cx="967.28" cy="1335.54" rx="2.99" ry="1.67" fill="#000" transform="rotate(-330 967.28 1335.54)"/>
<line x1="986.06" y1="1332.8" x2="986.06" y2="1324.8" stroke="#000" stroke-width="2" stroke-linecap="round"/>
<ellipse cx="986.06" cy="1327.32" rx="2.99" ry="1.67" fill="#000" transform="rotate(-90 986.06 1327.32)"/>
<line x1="986.06" y1="1332.8" x2="992.99" y2="1328.8" stroke="#000" stroke-width="2" stroke-linecap="round"/>
<ellipse cx="990.81" cy="1330.06" rx="2.99" ry="1.67" fill="#000" transform="rotate(-30 990.81 1330.06)"/>
<line x1="986.06" y1="1332.8" x2="979.13" y2="1328.8" stroke="#000" stroke-width="2" stroke-linecap="round"/>
<ellipse cx="981.32" cy="1330.06" rx="2.99" ry="1.67" fill="#000" transform="rotate(-150 981.32 1330.06)"/>
<line x1="986.06" y1="1332.8" x2="986.06" y2="1340.8" stroke="#000" stroke-width="2" stroke-linecap="round"/>
<ellipse cx="986.06" cy="1338.28" rx="2.99" ry="1.67" fill="#000" transform="rotate(-270 986.06 1338.28)"/>
<line x1="986.06" y1="1332.8" x2="979.13" y2="1336.8" stroke="#000" stroke-width="2" stroke-linecap="round"/>
<ellipse cx="981.32" cy="1335.54" rx="2.99" ry="1.67" fill="#000" transform="rotate(-210 981.32 1335.54)"/>
<line x1="986.06" y1="1332.8" x2="992.99" y2="1336.8" stroke="#000" stroke-width="2" stroke-linecap="round"/>
<ellipse cx="990.81" cy="1335.54" rx="2.99" ry="1.67" fill="#000" transform="rotate(-330 990.81 1335.54)"/>
<line x1="1219.94" y1="1319.5" x2="1219.94" y2="1311.5" stroke="#000" stroke-width="2" stroke-linecap="round"/>
<ellipse cx="1219.94" cy="1314.02" rx="2.99" ry="1.67" fill="#000" transform="rotate(-90 1219.94 1314.02)"/>
<line x1="1219.94" y1="1319.5" x2="1226.87" y2="1315.5" stroke="#000" stroke-width="2" stroke-linecap="round"/>
<ellipse cx="1224.68" cy="1316.76" rx="2.99" ry="1.67" fill="#000" transform="rotate(-30 1224.68 1316.76)"/>
<line x1="1219.94" y1="1319.5" x2="1213.01" y2="1315.5" stroke="#000" stroke-width="2" stroke-linecap="round"/>
<ellipse cx="1215.19" cy="1316.76" rx="2.99" ry="1.67" fill="#000" transform="rotate(-150 1215.19 1316.76)"/>
<line x1="1219.94" y1="1319.5" x2="1219.94" y2="1327.5" stroke="#000" stroke-width="2" stroke-linecap="round"/>
<ellipse cx="1219.94" cy="1324.98" rx="2.99" ry="1.67" fill="#000" transform="rotate(-270 1219.94 1324.98)"/>
<line x1="1219.94" y1="1319.5" x2="1213.01" y2="1323.5" stroke="#000" stroke-width="2" stroke-linecap="round"/>
<ellipse cx="1215.19" cy="1322.24" rx="2.99" ry="1.67" fill="#000" transform="rotate(-210 1215.19 1322.24)"/>
<line x1="1219.94" y1="1319.5" x2="1226.87" y2="1323.5" stroke="#000" stroke-width="2" stroke-linecap="round"/>
<ellipse cx="1224.68" cy="1322.24" rx="2.99" ry="1.67" fill="#000" transform="rotate(-330 1224.68 1322.24)"/>
<line x1="1243.76" y1="1319.5" x2="1243.76" y2="1311.5" stroke="#000" stroke-width="2" stroke-linecap="round"/>
<ellipse cx="1243.76" cy="1314.02" rx="2.99" ry="1.67" fill="#000" transform="rotate(-90 1243.76 1314.02)"/>
<line x1="1243.76" y1="1319.5" x2="1250.69" y2="1315.5" stroke="#000" stroke-width="2" stroke-linecap="round"/>
<ellipse cx="1248.51" cy="1316.76" rx="2.99" ry="1.67" fill="#000" transform="rotate(-30 1248.51 1316.76)"/>
<line x1="1243.76" y1="1319.5" x2="1236.83" y2="1315.5" stroke="#000" stroke-width="2" stroke-linecap="round"/>
<ellipse cx="1239.02" cy="1316.76" rx="2.99" ry="1.67" fill="#000" transform="rotate(-150 1239.02 1316.76)"/>
<line x1="1243.76" y1="1319.5" x2="1243.76" y2="1327.5" stroke="#000" stroke-width="2" stroke-linecap="round"/>
<ellipse cx="1243.76" cy="1324.98" rx="2.99" ry="1.67" fill="#000" transform="rotate(-270 1243.76 1324.98)"/>
<line x1="1243.76" y1="1319.5" x2="1236.83" y2="1323.5" stroke="#000" stroke-width="2" stroke-linecap="round"/>
<ellipse cx="1239.02" cy="1322.24" rx="2.99" ry="1.67" fill="#000" transform="rotate(-210 1239.02 1322.24)"/>
<line x1="1243.76" y1="1319.5" x2="1250.69" y2="1323.5" stroke="#000" stroke-width="2" stroke-linecap="round"/>
<ellipse cx="1248.51" cy="1322.24" rx="2.99" ry="1.67" fill="#000" transform="rotate(-330 1248.51 1322.24)"/>
<text x="898.7" y="1554.7" font-size="35.5" textLength="106.2" lengthAdjust="spacingAndGlyphs" >Jurkat</text>
<text x="1171.5" y="1554.7" font-size="35.5" textLength="106" lengthAdjust="spacingAndGlyphs" >Molt-4</text>
<line x1="830.2" y1="408.2" x2="1365" y2="408.2" stroke="#000" stroke-width="3.9" />
<line x1="107.4" y1="938.5" x2="660" y2="938.5" stroke="#000" stroke-width="3.5" />
<line x1="836.9" y1="938.7" x2="1372.5" y2="938.7" stroke="#000" stroke-width="3.5" />
<line x1="107.5" y1="1520.4" x2="651.4" y2="1520.4" stroke="#000" stroke-width="3.4" />
<line x1="833.9" y1="1520.5" x2="1361.5" y2="1520.5" stroke="#000" stroke-width="3" />
</g>
</svg>
</body></html>
